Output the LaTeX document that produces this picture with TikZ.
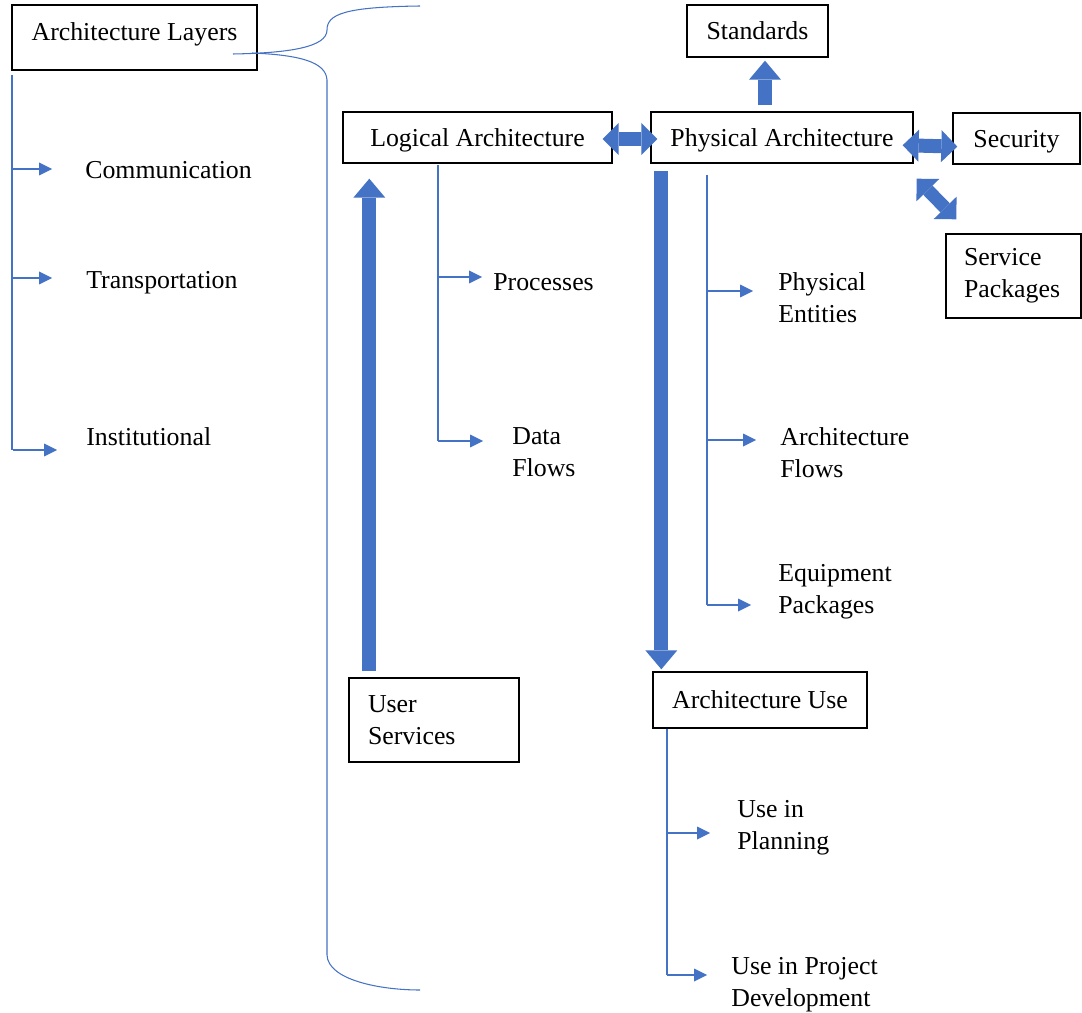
\documentclass[tikz,border=0pt]{standalone}
\usepackage{fontspec}
\setmainfont{Liberation Serif}
\usetikzlibrary{positioning, arrows.meta}
\definecolor{msblue}{HTML}{4472C4}
\newcommand{\dgfont}{\fontsize{14.7pt}{18.2pt}\selectfont}

\begin{document}
\begin{tikzpicture}[x=0.02cm, y=-0.02cm,
    box/.style={draw, line width=0.8pt, font=\dgfont, inner sep=0pt},
    low/.style={text height=13.4pt, text depth=3.2pt},
    lbl/.style={anchor=west, inner sep=0pt, align=left, font=\dgfont},
    stem/.style={draw=msblue, line width=0.6pt},
    twig/.style={stem, -{Triangle[length=0.26cm, width=0.26cm, line width=0pt]}},
    fat/.style={msblue, line width=0.28cm, -{Triangle[length=0.38cm, width=0.64cm, line width=0pt]}},
    fatboth/.style={msblue, line width=0.28cm, {Triangle[length=0.32cm, width=0.64cm, line width=0pt]}-{Triangle[length=0.32cm, width=0.64cm, line width=0pt]}}]
  \useasboundingbox (0,0) rectangle (1082,1013);

  % boxes
  \node[box, minimum width=4.9cm, minimum height=1.3cm, text height=10pt, text depth=6.6pt] (lay) at (134.5,37.5) {Architecture Layers};
  \node[box, low, minimum width=5.38cm, minimum height=1.02cm] (log) at (477.5,137.5) {Logical Architecture};
  \node[box, low, minimum width=5.24cm, minimum height=1.02cm] (phys) at (782,137.5) {Physical Architecture};
  \node[box, minimum width=2.82cm, minimum height=1.04cm] (std) at (757.5,31) {Standards};
  \node[box, low, minimum width=2.54cm, minimum height=1.02cm] (sec) at (1016.5,138.5) {Security};
  \node[box, minimum width=2.7cm, minimum height=1.68cm, text width=1.98cm, align=left] (svc) at (1013.5,276) {Service\\Packages};
  \node[box, minimum width=3.4cm, minimum height=1.68cm, text width=2.64cm, align=left] (us) at (434,720) {User\\Services};
  \node[box, minimum width=4.28cm, minimum height=1.12cm] (ause) at (760,700) {Architecture Use};

  % labels
  \node[lbl] (comm) at (85,170) {Communication};
  \node[lbl] (trans) at (86,283) {Transportation};
  \node[lbl] (inst) at (86,437) {Institutional};
  \node[lbl] (proc) at (493,282) {Processes};
  \node[lbl] (dflow) at (512,452) {Data\\Flows};
  \node[lbl] (pent) at (778,298) {Physical\\Entities};
  \node[lbl] (aflow) at (780,453) {Architecture\\Flows};
  \node[lbl] (eqp) at (778,592) {Equipment\\Packages};
  \node[lbl] (plan) at (737,828) {Use in\\Planning};
  \node[lbl] (proj) at (731,985) {Use in Project\\Development};

  % brace
  \draw[stem] (420,6) .. controls (345,7) and (327,14) .. (327,30)
    .. controls (327,47) and (290,53) .. (233,54);
  \draw[stem] (252,53) .. controls (300,55) and (326,62) .. (327,80)
    -- (327,955) .. controls (328,980) and (380,990) .. (420,990);

  % layers
  \coordinate (lt-top) at (12,75);
  \coordinate (lt-bot) at (13,450);
  \draw[stem] (lt-top) -- (lt-top |- lt-bot);
  \draw[twig, shorten >=0.66cm] ([yshift=0.02cm]lt-top |- comm.west) -- ([yshift=0.02cm]comm.west);
  \draw[twig, shorten >=0.68cm] ([yshift=0.1cm]lt-top |- trans.west) -- ([yshift=0.1cm]trans.west);
  \draw[twig, shorten >=0.58cm] (lt-bot) -- (lt-bot -| inst.west);

  % logical
  \coordinate (lg-top) at (438,165);
  \coordinate (lg-bot) at (438,441);
  \draw[stem] (lg-top) -- (lg-bot);
  \draw[twig, shorten >=0.22cm] ([yshift=0.1cm]lg-top |- proc.west) -- ([yshift=0.1cm]proc.west);
  \draw[twig, shorten >=0.58cm] (lg-bot) -- (lg-bot -| dflow.west);

  % physical
  \coordinate (pt-top) at (707,175);
  \coordinate (pt-bot) at (707,605);
  \draw[stem] (pt-top) -- (pt-bot);
  \draw[twig, shorten >=0.5cm] ([yshift=0.14cm]pt-top |- pent.west) -- ([yshift=0.14cm]pent.west);
  \draw[twig, shorten >=0.48cm] ([yshift=0.26cm]pt-top |- aflow.west) -- ([yshift=0.26cm]aflow.west);
  \draw[twig, shorten >=0.54cm] (pt-bot) -- (pt-bot -| eqp.west);

  % use
  \coordinate (au-bot) at (667,975);
  \draw[stem] (au-bot |- ause.south) -- (au-bot);
  \draw[twig, shorten >=0.54cm] ([yshift=-0.1cm]au-bot |- plan.west) -- ([yshift=-0.1cm]plan.west);
  \draw[twig, shorten >=0.48cm] (au-bot) -- (au-bot -| proj.west);

  % block arrows
  \coordinate (pa-dn) at ([xshift=0.22cm]phys.south west);
  \coordinate (us-up) at ([xshift=0.42cm]us.north west);
  \draw[fat, shorten <=0.14cm, shorten >=0.04cm] (pa-dn) -- (pa-dn |- ause.north);
  \draw[fat, shorten <=0.12cm, shorten >=0.3cm] (us-up) -- (us-up |- log.south);
  \draw[fat, shorten <=0.12cm, shorten >=0.06cm]
    ([xshift=0.15cm]std.south |- phys.north) -- ([xshift=0.15cm]std.south);
  \draw[fatboth, shorten <=-0.2cm, shorten >=-0.14cm] ([yshift=-0.03cm]log.east) -- ([yshift=-0.03cm]phys.west);
  \draw[fatboth, shorten <=-0.22cm, shorten >=-0.1cm] ([yshift=-0.16cm]phys.east) -- ([yshift=-0.16cm]sec.west);
  \draw[fatboth, line width=0.26cm] ([xshift=0.06cm, yshift=-0.3cm]phys.south east) -- ([xshift=0.22cm, yshift=0.28cm]svc.north west);
\end{tikzpicture}
\end{document}
